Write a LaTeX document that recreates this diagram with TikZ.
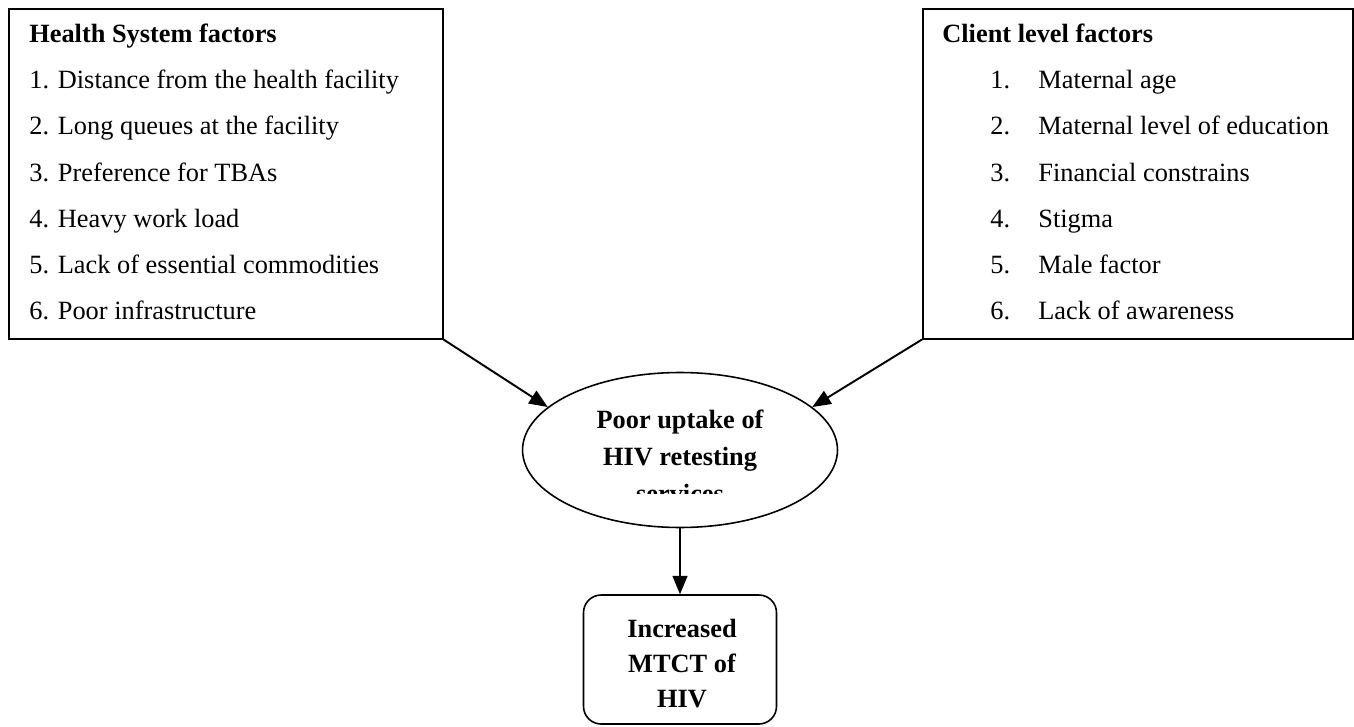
\documentclass[tikz,border=0pt]{standalone}
\usepackage{fontspec}
\setmainfont{Liberation Serif}
\usetikzlibrary{shapes.geometric, arrows.meta, positioning}
\tikzset{
    factorbox/.style={rectangle, draw, line width=0.9pt, anchor=north west, inner sep=0pt},
    itemtext/.style={anchor=base west, inner sep=0pt, font=\fontsize{15}{17}\selectfont},
    headtext/.style={anchor=base west, inner sep=0pt, font=\fontsize{15}{17}\selectfont\bfseries},
    centertext/.style={anchor=base, inner sep=0pt, font=\fontsize{15}{17}\selectfont\bfseries},
    arrow/.style={-{Triangle[length=10.5pt, width=8.5pt]}, line width=1.1pt},
}

\begin{document}
\begin{tikzpicture}[x=0.02cm, y=-0.02cm]
    \useasboundingbox (0,0) rectangle (1354,726);

    % Health system factors
    \node[factorbox, minimum width=8.68cm, minimum height=6.6cm] (health) at (8,8) {};
    \node[headtext] (healthhead) at (29,43) {Health System factors};
    \foreach \txt [count=\i] in {Distance from the health facility, Long queues at the facility, Preference for TBAs, Heavy work load, Lack of essential commodities, Poor infrastructure}
        \node[itemtext] (health\i) at (29,43+46*\i) {\i. \txt};

    % Client level factors
    \node[factorbox, minimum width=8.6cm, minimum height=6.6cm] (client) at (922,8) {};
    \node[headtext] (clienthead) at (942,43) {Client level factors};
    \foreach \txt [count=\i] in {Maternal age, Maternal level of education, Financial constrains, Stigma, Male factor, Lack of awareness}
    {
        \node[itemtext] (clientnum\i) at (990,43+46*\i) {\i.};
        \node[itemtext] (client\i) at (1038,43+46*\i) {\txt};
    }

    % Poor uptake
    \node[draw, ellipse, line width=0.9pt, minimum width=6.3cm, minimum height=3.1cm] (poor) at (680,450) {};
    \node[centertext] (poor1) at (680,428) {Poor uptake of};
    \node[centertext] (poor2) at (680,465) {HIV retesting};
    \begin{scope}
        \clip (523,372) rectangle (838,493);
        \node[centertext] (poor3) at (680,502) {services};
    \end{scope}

    % Outcome
    \node[draw, rectangle, rounded corners=10pt, line width=0.9pt, minimum width=3.86cm, minimum height=2.58cm] (mtct) at (680,659.5) {};
    \node[centertext] (mtct1) at (682,637) {Increased};
    \node[centertext] (mtct2) at (682,672) {MTCT of};
    \node[centertext] (mtct3) at (682,707) {HIV};

    \draw[arrow] (health.south east) -- (poor.162);
    \draw[arrow] (client.south west) -- (poor.18);
    \draw[arrow] (poor.south) -- (mtct.north);
\end{tikzpicture}
\end{document}
